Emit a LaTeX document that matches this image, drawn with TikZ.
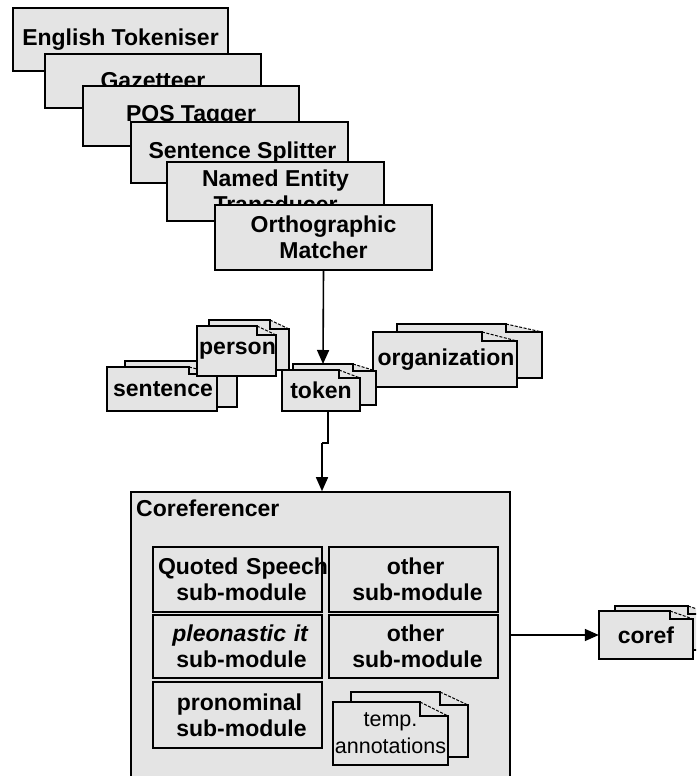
\documentclass[tikz,border=0pt]{standalone}
\usepackage{fontspec}
\setmainfont{Liberation Sans}
\usetikzlibrary{arrows.meta}
\definecolor{boxfill}{RGB}{228,228,228}
\newcommand{\docshape}[6]{%
  \fill[boxfill] (#1,#2) -- ({#3-#5},#2) -- (#3,{#2+#6}) -- (#3,#4) -- (#1,#4) -- cycle;
  \draw[docedge] ({#3-#5},#2) -- (#1,#2) -- (#1,#4) -- (#3,#4) -- (#3,{#2+#6}) -- ({#3-#5},{#2+#6}) -- cycle;
  \draw[docfold] ({#3-#5},#2) -- (#3,{#2+#6});
}
\tikzset{
  bigfont/.style={font=\bfseries\fontsize{23}{26}\selectfont},
  procbox/.style={draw=black, fill=boxfill, line width=1.6pt, align=center, bigfont, inner sep=0pt},
  subbox/.style={draw=black, fill=boxfill, line width=1.6pt, align=center, bigfont, inner sep=0pt,
    text width=169pt},
  doctext/.style={bigfont, inner sep=0pt, align=center},
  docedge/.style={draw=black, line width=1.6pt, line join=miter},
  docfold/.style={draw=black, line width=1pt, dash pattern=on 3pt off 1.5pt},
  arr/.style={draw=black, line width=1.6pt, -{Triangle[length=14pt,width=12pt]}},
  conn/.style={draw=black, line width=1.6pt}
}
\begin{document}
\begin{tikzpicture}[x=1pt,y=-1pt]
\useasboundingbox (0,0) rectangle (696,776);
\clip (0,0) rectangle (696,776);
\fill[white] (0,0) rectangle (696,776);

% processing resources
\node[procbox, minimum width=215pt, minimum height=63pt] (tok) at (120.5,39.5) {English Tokeniser};
\node[procbox, minimum width=216pt, minimum height=54pt] (gaz) at (153,81) {Gazetteer};
\node[procbox, minimum width=216pt, minimum height=60pt] (pos) at (191,116) {POS Tagger};
\node[procbox, minimum width=217pt, minimum height=61pt] (split) at (239.5,152.5) {\hspace*{6pt}Sentence Splitter};
\node[procbox, minimum width=217pt, minimum height=59pt] (ne) at (275.5,191.5) {Named Entity\\Transducer};
\node[procbox, minimum width=217pt, minimum height=65pt] (ortho) at (323.5,237.5) {Orthographic\\Matcher};

\coordinate (tokentop) at (323,364);
\draw[arr] (ortho.south) -- (tokentop);

% annotation sets
\docshape{125}{361}{237}{407}{18}{7}
\docshape{107}{367}{217}{411}{28}{7}
\node[doctext, minimum width=110pt, minimum height=44pt] (sentence) at (163,389) {sentence};

\docshape{209}{320}{289}{370}{19}{9}
\docshape{197}{326}{276}{376}{19}{9}
\node[doctext, minimum width=79pt, minimum height=50pt] (person) at (237.5,351) {person};

\docshape{397}{324}{542}{378}{36}{8}
\docshape{373}{332}{517}{387}{35}{9}
\node[doctext, minimum width=144pt, minimum height=55pt] (org) at (446,359.5) {organization};

\docshape{293}{364}{376}{405}{23}{7}
\docshape{282}{370}{360}{411}{21}{8}
\node[doctext, minimum width=78pt, minimum height=41pt] (token) at (321,390.5) {token};

% coreferencer
\node[draw=black, fill=boxfill, line width=1.6pt, minimum width=379pt, minimum height=308pt, inner sep=0pt] (coref) at (320.5,646) {};
\node[bigfont, inner sep=0pt, anchor=west] (coreftitle) at (136,508) {Coreferencer};

\node[subbox, minimum height=65pt] (quoted) at (237.5,579.5) {\hspace*{5pt}Quoted~Speech\\\hspace*{8pt}sub-module};
\node[subbox, minimum height=65pt] (other1) at (413.5,579.5) {\hspace*{4pt}other\\\hspace*{8pt}sub-module};
\node[subbox, minimum height=63pt] (pleo) at (237.5,646.5) {\hspace*{6pt}\textit{pleonastic it}\\\hspace*{8pt}sub-module};
\node[subbox, minimum height=63pt] (other2) at (413.5,646.5) {\hspace*{4pt}other\\\hspace*{8pt}sub-module};
\node[subbox, minimum height=66pt] (pron) at (237.5,715) {\hspace*{4pt}pronominal\\\hspace*{8pt}sub-module};

\docshape{351}{692}{468}{757}{28}{13}
\docshape{333}{702}{448}{765}{28}{14}
\node[inner sep=0pt, align=center, font=\fontsize{21.5}{27}\selectfont, minimum width=115pt, minimum height=63pt] (temp) at (390.5,733) {temp.\\annotations};

% coref output
\docshape{615}{606}{712}{650}{24}{8}
\docshape{599}{611}{693}{659}{23}{8}
\node[doctext, minimum width=94pt, minimum height=48pt] (corefout) at (646,635) {coref};

% connectors
\coordinate (bend1) at (328,443);
\coordinate (bend2) at (322,443);
\draw[conn] ([xshift=7pt]token.south) -- (bend1) -- (bend2);
\draw[arr] (bend2) -- (bend2 |- coref.north);
\draw[arr] (coref.east |- corefout.west) -- (corefout.west);
\end{tikzpicture}
\end{document}
